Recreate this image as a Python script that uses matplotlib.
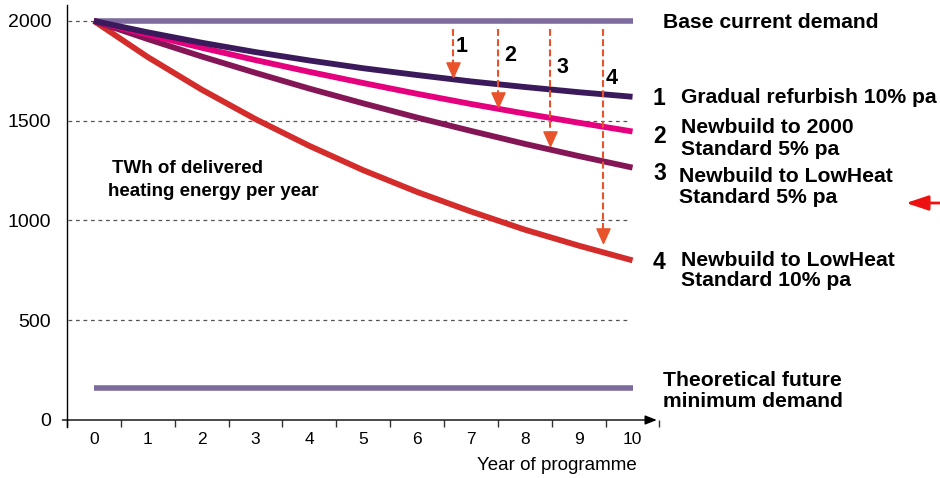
import numpy as np
import matplotlib.pyplot as plt
from matplotlib.path import Path
from matplotlib.patches import FancyArrowPatch

plt.rcParams['font.family'] = ['Liberation Sans', 'DejaVu Sans']

# data (TWh per year)
years = np.arange(0, 11)
base_demand = 2000
min_demand = 160
refurbish_10 = [2000, 1943, 1891, 1844, 1802, 1763, 1729, 1697, 1669, 1643, 1620]
newbuild_2000_5 = [2000, 1931, 1866, 1804, 1745, 1689, 1635, 1584, 1536, 1490, 1446]
lowheat_5 = [2000, 1909, 1822, 1740, 1661, 1587, 1516, 1449, 1384, 1323, 1265]
lowheat_10 = [2000, 1819, 1656, 1508, 1374, 1252, 1143, 1045, 954, 874, 800]

# dashed "saving" arrows
arrow_years = [6.66, 7.51, 8.47, 9.45]
arrow_top = 1960
arrow_tips = [1720, 1570, 1373, 887]
arrow_labels = ['1', '2', '3', '4']

grid_vals = [500, 1000, 1500, 2000]
y_ticks = [0, 500, 1000, 1500, 2000]

W, H = 940, 478
fig = plt.figure(figsize=(W / 100, H / 100), dpi=100)
ax = fig.add_axes([67 / W, 58 / H, 593 / W, 415 / H])
ax.set_xlim(-0.49, 10.51)
ax.set_ylim(0, 2080)
for s in ax.spines.values():
    s.set_visible(False)


def ftext(px, py, s, **kw):
    fig.text(px / W, 1 - py / H, s, **kw)


# grid
ax.hlines(grid_vals, -0.49, 9.9, colors='#555555', linestyles=(0, (3, 3)), lw=0.9, zorder=1)

# flat reference lines
ax.plot([years[0], years[-1]], [base_demand] * 2, color='#7d6b9d', lw=4, solid_capstyle='butt', zorder=2)
ax.plot([years[0], years[-1]], [min_demand] * 2, color='#7d6b9d', lw=4, solid_capstyle='butt', zorder=2)

# scenario curves
ax.plot(years, lowheat_10, color='#d42b2b', lw=4.2, solid_capstyle='butt', zorder=3)
ax.plot(years, lowheat_5, color='#851656', lw=4.2, solid_capstyle='butt', zorder=4)
ax.plot(years, newbuild_2000_5, color='#e5007d', lw=4.2, solid_capstyle='butt', zorder=5)
ax.plot(years, refurbish_10, color='#3b1a5c', lw=4.2, solid_capstyle='butt', zorder=6)

# arrows
head = Path([(0, 0), (-0.45, 1), (0.45, 1), (0, 0)])
for xa, tip, lab in zip(arrow_years, arrow_tips, arrow_labels):
    ax.plot([xa, xa], [arrow_top, tip + 60], color='#e9532c', lw=1.5,
            linestyle=(0, (3.3, 1.6)), zorder=7)
    ax.plot([xa], [tip], marker=head, ms=21, color='#e9532c', mec='#e9532c', zorder=8)

# arrow labels
for lx, ly, lab in zip([462, 510, 562, 612], [52, 61, 73, 84], arrow_labels):
    ftext(lx, ly, lab, fontsize=15.5, fontweight='bold', ha='center', va='baseline')

# axes
ax.plot([0, 0], [-7 / 415, 1], transform=ax.transAxes, color='black', lw=1, clip_on=False)
ax.annotate('', xy=(10.45, 0), xycoords=('data', 'axes fraction'),
            xytext=(-0.585, 0), textcoords=('data', 'axes fraction'),
            arrowprops=dict(arrowstyle='-|>,head_length=0.5,head_width=0.2',
                            color='black', lw=1, shrinkA=0, shrinkB=0,
                            mutation_scale=14))

ax.set_xticks(years)
ax.set_xticks(np.arange(-0.5, 11, 1), minor=True)
ax.set_yticks(y_ticks)
ax.tick_params(axis='x', which='major', length=0, pad=8.5, labelsize=12.5)
ax.tick_params(axis='x', which='minor', length=5, width=1, color='#333333', direction='out')
ax.tick_params(axis='y', which='both', length=0, pad=11.5, labelsize=14)

ftext(637, 470, 'Year of programme', fontsize=13.5, ha='right', va='baseline')
ftext(112, 173, 'TWh of delivered', fontsize=13.5, fontweight='bold', va='baseline')
ftext(108, 196, 'heating energy per year', fontsize=13.5, fontweight='bold', va='baseline')

# right-hand labels
bold = dict(fontsize=15.2, fontweight='bold', va='baseline')
num = dict(fontsize=16.5, fontweight='bold', va='baseline')
ftext(663, 28, 'Base current demand', **bold)
ftext(652, 105, '1', **num)
ftext(681, 103, 'Gradual refurbish 10% pa', **bold)
ftext(653, 143, '2', **num)
ftext(681, 133, 'Newbuild to 2000', **bold)
ftext(681, 155, 'Standard 5% pa', **bold)
ftext(653, 180, '3', **num)
ftext(679, 182, 'Newbuild to LowHeat', **bold)
ftext(679, 203, 'Standard 5% pa', **bold)
ftext(653, 269, '4', **num)
ftext(681, 266, 'Newbuild to LowHeat', **bold)
ftext(681, 286, 'Standard 10% pa', **bold)
ftext(663, 386, 'Theoretical future', **bold)
ftext(663, 407, 'minimum demand', **bold)

# small red pointer at the right edge
fig.add_artist(FancyArrowPatch(
    (W + 2, H - 203), (906, H - 203), transform=None,
    arrowstyle='-|>,head_length=0.9,head_width=0.3', mutation_scale=15,
    color='#ee1111', lw=2, shrinkA=0, shrinkB=0))

fig.savefig('out.png', dpi=100)
